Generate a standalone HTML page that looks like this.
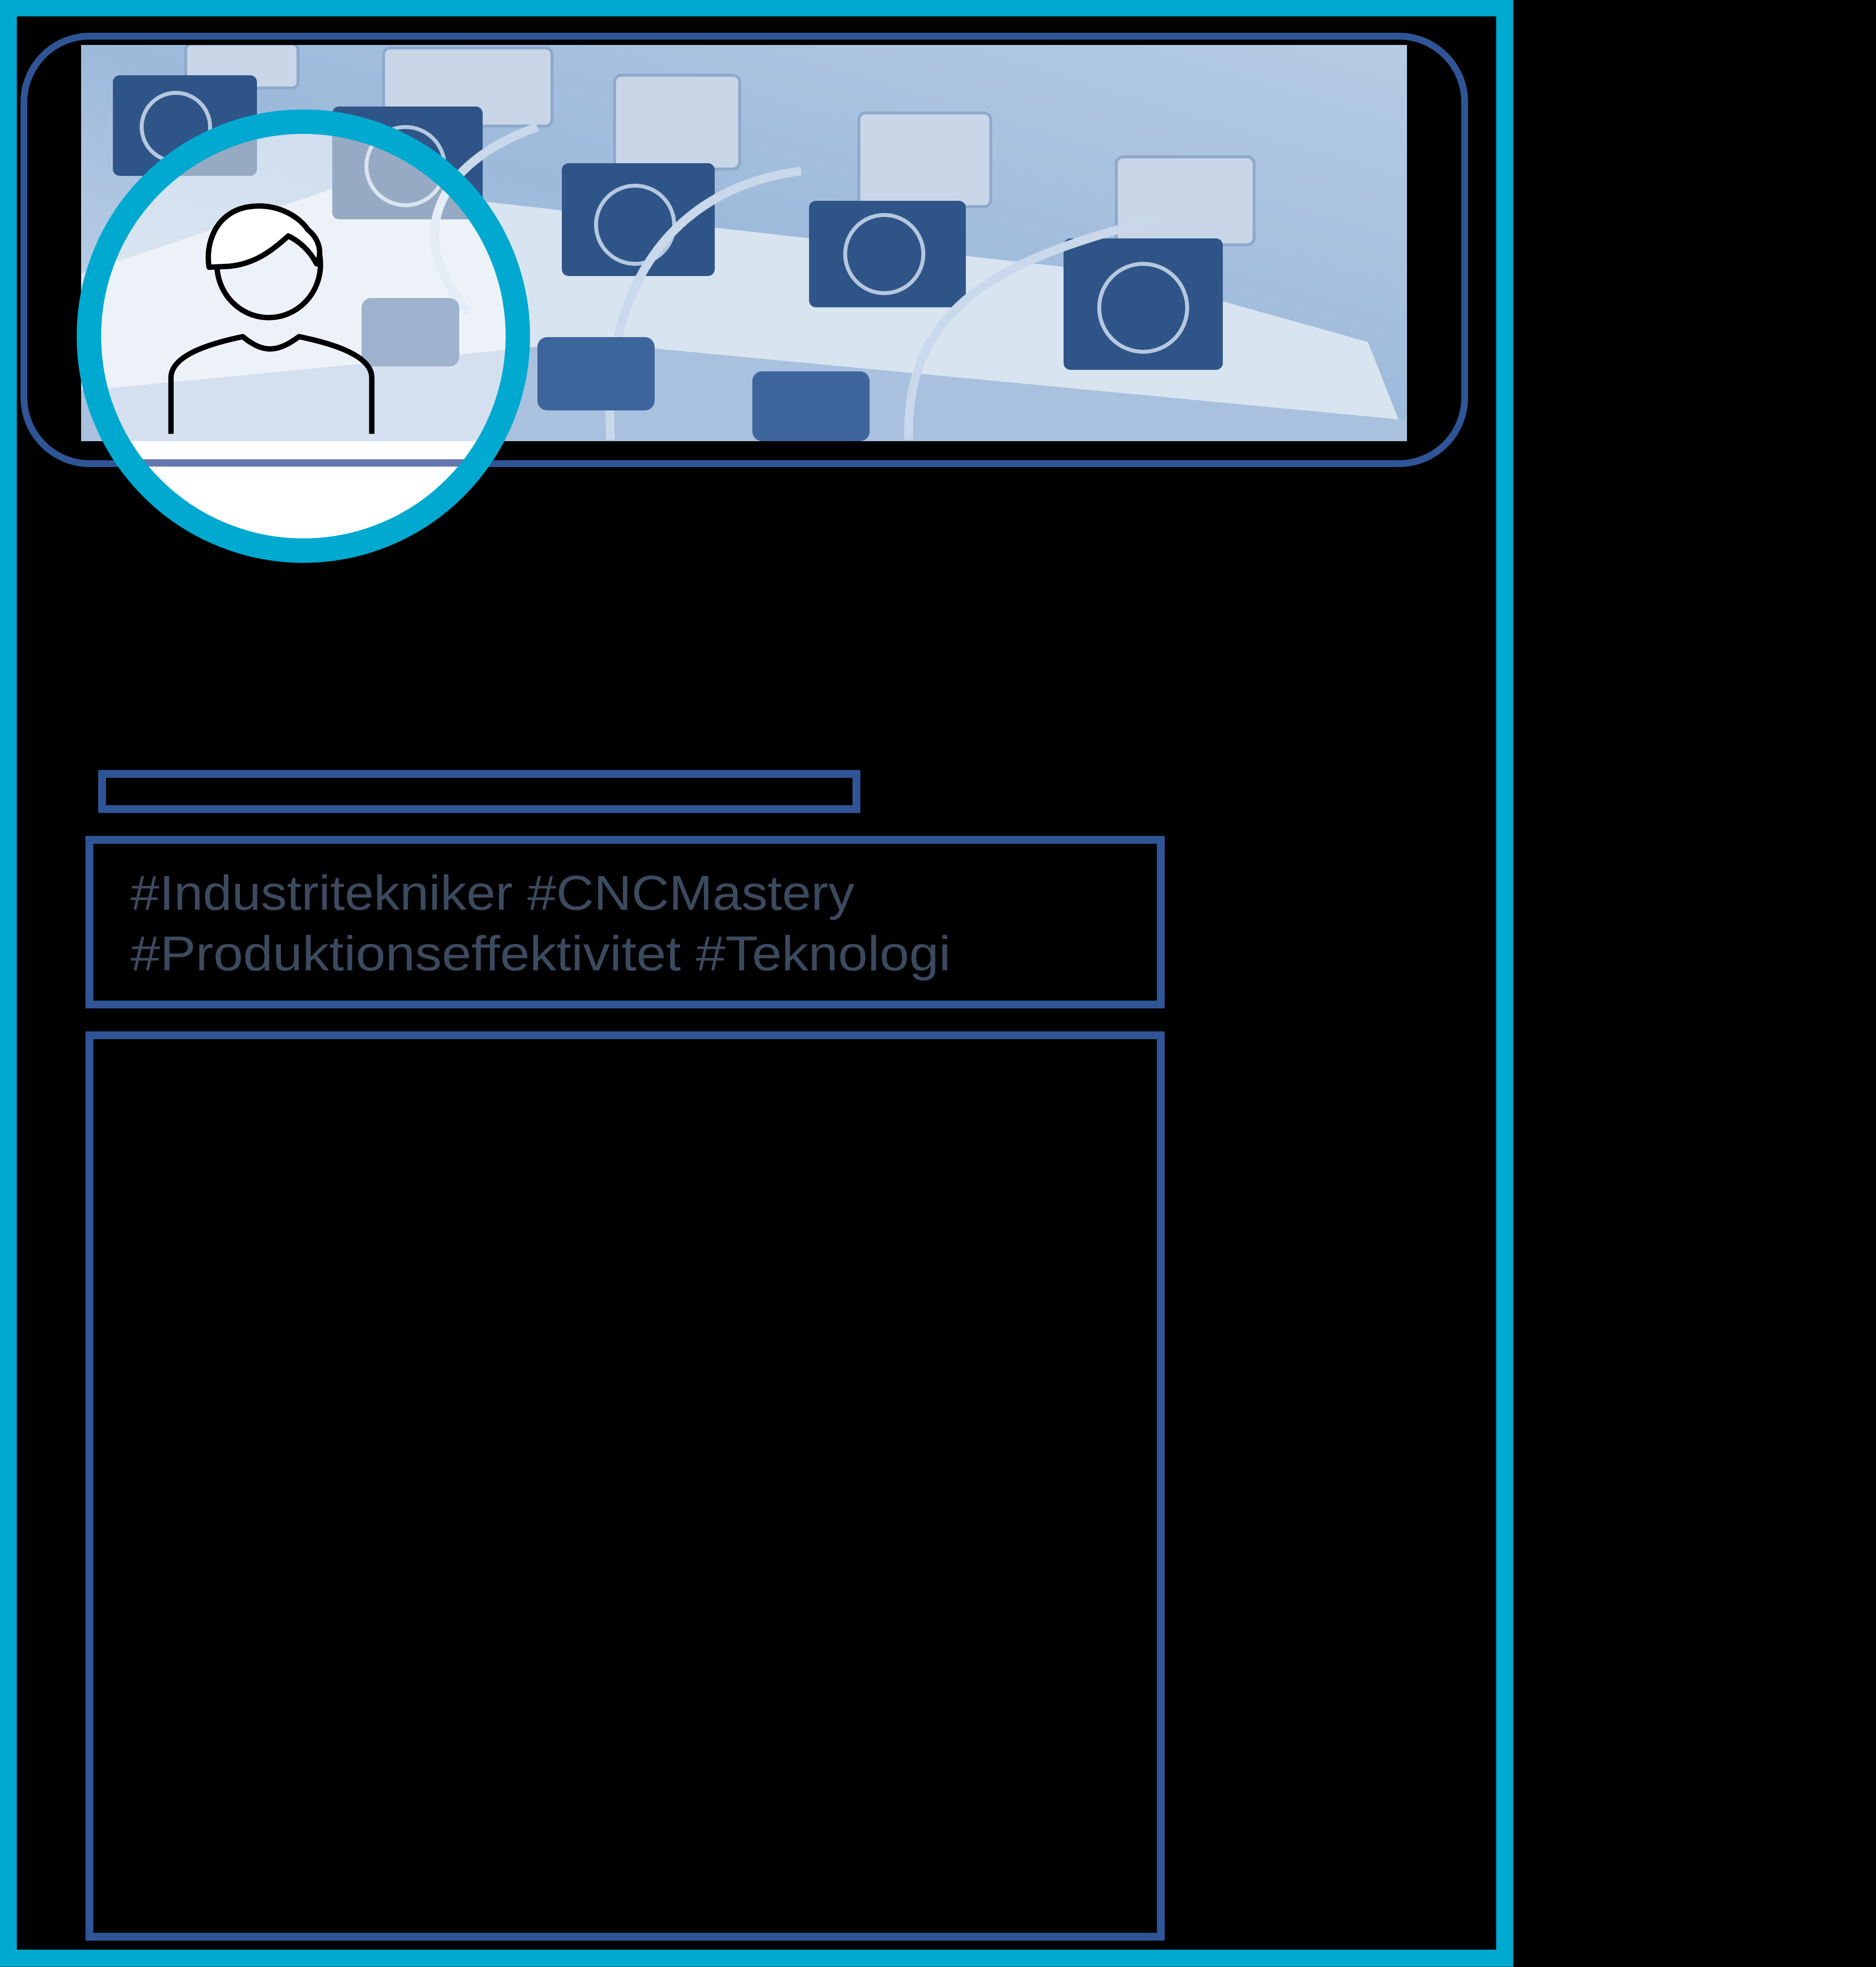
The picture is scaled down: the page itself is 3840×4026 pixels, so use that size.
<!DOCTYPE html>
<html><head><meta charset="utf-8"><style>
html,body{margin:0;padding:0;background:#000;}
svg{display:block;}
</style></head><body>
<svg width="3840" height="4026" viewBox="0 0 3840 4026" xmlns="http://www.w3.org/2000/svg">
<defs>
<linearGradient id="bg" x1="0" y1="1" x2="1" y2="0">
<stop offset="0" stop-color="#c9d8ea"/><stop offset="0.5" stop-color="#9dbadb"/><stop offset="1" stop-color="#b6cbe3"/>
</linearGradient>
<clipPath id="ph"><rect x="166" y="92" width="2714" height="811"/></clipPath>
<clipPath id="cin"><circle cx="621" cy="688" r="416"/></clipPath>
<g id="photo">
<rect x="166" y="92" width="2714" height="811" fill="url(#bg)"/>
<polygon points="166,560 700,380 2300,560 2800,700 2880,903 166,903" fill="#d9e4f1"/>
<polygon points="166,800 1200,700 2880,860 2880,903 166,903" fill="#a9c1de"/>
<g fill="#c8d6e8" stroke="#8ea9cb" stroke-width="6">
<rect x="380" y="90" width="230" height="90" rx="12"/>
<rect x="785" y="98" width="345" height="160" rx="14"/>
<rect x="1258" y="154" width="256" height="192" rx="14"/>
<rect x="1758" y="231" width="270" height="192" rx="14"/>
<rect x="2285" y="321" width="282" height="180" rx="14"/>
</g>
<g fill="#2f5588">
<rect x="231" y="154" width="295" height="206" rx="14"/>
<rect x="680" y="218" width="308" height="231" rx="14"/>
<rect x="1150" y="334" width="313" height="231" rx="14"/>
<rect x="1656" y="411" width="321" height="218" rx="14"/>
<rect x="2177" y="488" width="326" height="269" rx="14"/>
</g>
<g fill="none" stroke="#b5c8e0" stroke-width="8">
<circle cx="360" cy="260" r="70"/><circle cx="830" cy="340" r="80"/><circle cx="1300" cy="460" r="80"/><circle cx="1810" cy="520" r="80"/><circle cx="2340" cy="630" r="90"/>
<path d="M1640 350 C1400 380 1230 560 1250 900" stroke-width="18" stroke="#c9d8ea"/>
<path d="M2360 450 C2100 520 1850 600 1860 900" stroke-width="18" stroke="#c9d8ea"/>
<path d="M1100 260 C900 330 820 480 960 640" stroke-width="18" stroke="#c9d8ea"/>
</g>
<g fill="#3d659c">
<rect x="1100" y="690" width="240" height="150" rx="20"/>
<rect x="1540" y="760" width="240" height="143" rx="20"/>
<rect x="740" y="610" width="200" height="140" rx="20"/>
</g>
</g>
</defs>

<rect x="17" y="16" width="3063" height="3992" fill="none" stroke="#00a9cf" stroke-width="35"/>

<use href="#photo" clip-path="url(#ph)"/>

<rect x="49" y="74" width="2949" height="875" rx="135" fill="none" stroke="#2f5597" stroke-width="14"/>

<circle cx="621" cy="688" r="416" fill="#fff"/>
<g clip-path="url(#cin)">
<use href="#photo" clip-path="url(#ph)"/>
<rect x="166" y="92" width="1000" height="811" fill="#fff" opacity="0.5"/>
<rect x="150" y="940" width="1000" height="15" fill="#6678b0"/>
</g>
<circle cx="621" cy="688" r="439" fill="none" stroke="#00a9cf" stroke-width="50"/>

<g fill="none" stroke="#000" stroke-width="11" stroke-linejoin="round">
<ellipse cx="550" cy="541" rx="106" ry="109"/>
<path d="M428 547 C420 500 440 440 500 425 C560 412 610 440 630 470 C655 490 660 520 648 540 C635 515 615 495 590 483 C555 515 520 540 470 545 Z" fill="#fff"/>
<path d="M350 888 L350 773 C350 730 420 705 497 689 C540 725 570 720 612 689 C690 705 761 730 761 773 L761 888"/>
</g>

<rect x="209" y="1584" width="1544" height="72" fill="none" stroke="#2f5597" stroke-width="16"/>

<rect x="183" y="1719" width="2193" height="337" fill="none" stroke="#2f5597" stroke-width="16"/>
<g font-family="Liberation Sans, sans-serif" font-size="100" fill="#3c4a5f">
<text x="267" y="1862" textLength="1482" lengthAdjust="spacingAndGlyphs">#Industritekniker #CNCMastery</text>
<text x="267" y="1986" textLength="1679" lengthAdjust="spacingAndGlyphs">#Produktionseffektivitet #Teknologi</text>
</g>

<rect x="183" y="2119" width="2193" height="1845" fill="none" stroke="#2f5597" stroke-width="16"/>
</svg>
</body></html>
